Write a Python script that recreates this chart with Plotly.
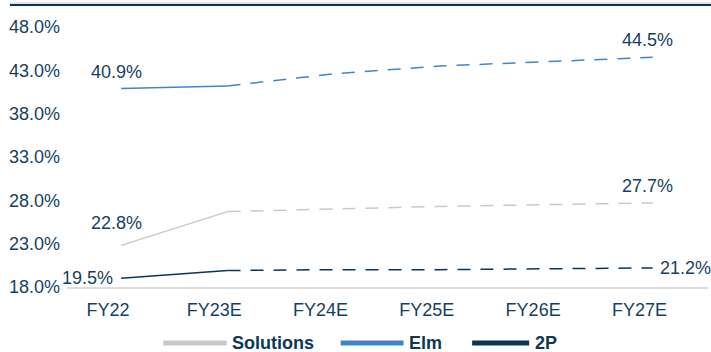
import plotly.graph_objects as go

categories = ["FY22", "FY23E", "FY24E", "FY25E", "FY26E", "FY27E"]
solutions = [22.8, 26.7, 27.0, 27.3, 27.5, 27.7]
elm = [40.9, 41.2, 42.6, 43.5, 44.0, 44.5]
two_p = [19.0, 19.9, 20.0, 20.0, 20.1, 20.2]
end_labels = {
    "Solutions": ("22.8%", "27.7%"),
    "Elm": ("40.9%", "44.5%"),
    "2P": ("19.5%", "21.2%"),
}
y_ticks = [18, 23, 28, 33, 38, 43, 48]

# name, values, colour, (start label anchor/shift), (end label anchor/shift)
series = [
    ("Solutions", solutions, "#c9c9c9", ("center", "bottom", -5, 10), ("center", "bottom", -5, 5)),
    ("Elm", elm, "#3f86c8", ("center", "bottom", -5, 5), ("center", "bottom", -5, 5)),
    ("2P", two_p, "#0b3556", ("right", "middle", -6, 0), ("left", "middle", 5, 0)),
]

text_color = "#163f5f"
font_family = "Liberation Sans, Arial, sans-serif"
x = list(range(len(categories)))

fig = go.Figure()
for name, vals, color, a0, a1 in series:
    fig.add_trace(go.Scatter(
        x=x[:2], y=vals[:2], mode="lines", line=dict(color=color, width=1.5),
        showlegend=False, hoverinfo="skip"))
    fig.add_trace(go.Scatter(
        x=x[1:], y=vals[1:], mode="lines", line=dict(color=color, width=1.5, dash="13px,10px"),
        showlegend=False, hoverinfo="skip"))
    lab0, lab1 = end_labels[name]
    for xi, yi, lab, (xa, ya, xs, ys) in ((x[0], vals[0], lab0, a0), (x[-1], vals[-1], lab1, a1)):
        fig.add_annotation(x=xi, y=yi, text=lab, showarrow=False, xanchor=xa, yanchor=ya,
                           xshift=xs, yshift=ys,
                           font=dict(size=18, color=text_color, family=font_family))

# manual legend
legend_items = [("Solutions", "#c9c9c9", 0.150, 0.249), ("Elm", "#3f86c8", 0.427, 0.525), ("2P", "#0b3556", 0.632, 0.721)]
for name, color, x0, x1 in legend_items:
    fig.add_shape(type="line", xref="paper", yref="paper", x0=x0, x1=x1, y0=-0.215, y1=-0.215,
                  line=dict(color=color, width=5))
    fig.add_annotation(xref="paper", yref="paper", x=x1 + 0.006, y=-0.215, text="<b>" + name + "</b>",
                       showarrow=False, xanchor="left", yanchor="middle",
                       font=dict(size=18, color="#0d3857", family=font_family))

# top frame line
fig.add_shape(type="line", xref="paper", yref="paper", x0=-0.089, x1=1.01, y0=1.092, y1=1.092,
              line=dict(color="#c5cdd5", width=1))
fig.add_shape(type="line", xref="paper", yref="paper", x0=-0.089, x1=1.01, y0=1.085, y1=1.085,
              line=dict(color="#0b3556", width=2))

fig.update_layout(
    width=711, height=352,
    margin=dict(l=67, r=3, t=27, b=65),
    paper_bgcolor="white", plot_bgcolor="white",
    font=dict(family=font_family, color=text_color, size=18),
    xaxis=dict(range=[-0.51, 5.52], tickvals=[v - 0.125 for v in x], ticktext=categories,
               showgrid=False, zeroline=False, showline=True, linecolor="#dcdcdc", linewidth=1.5,
               ticks="", ticklabelstandoff=6, tickfont=dict(size=18, color=text_color)),
    yaxis=dict(range=[18, 48], tickvals=y_ticks, ticktext=[f"{v:.1f}%" for v in y_ticks],
               showgrid=False, zeroline=False, showline=False, ticks="",
               ticklabelstandoff=6, tickfont=dict(size=18, color=text_color)),
)

fig.write_html("out.html")
